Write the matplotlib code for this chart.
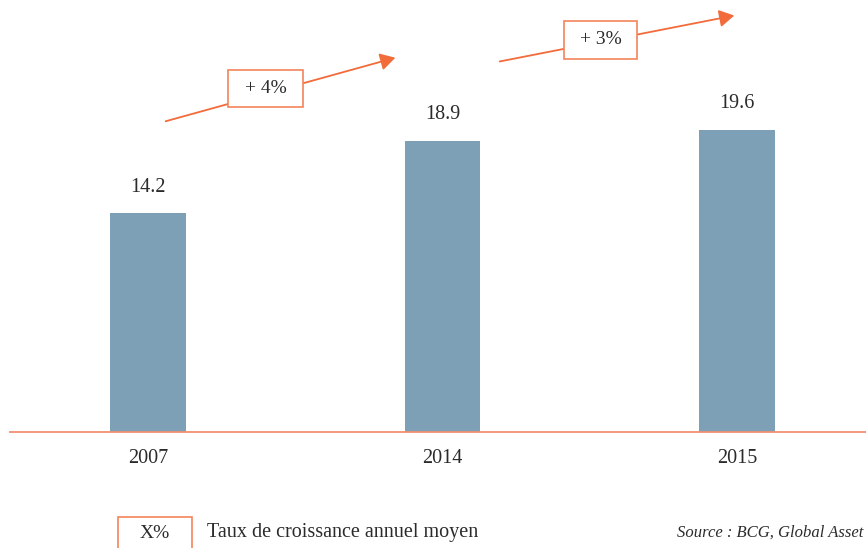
import matplotlib
matplotlib.use("Agg")
import matplotlib.pyplot as plt
from matplotlib.patches import Rectangle, FancyArrowPatch

years = ["2007", "2014", "2015"]
values = [14.2, 18.9, 19.6]
growth_labels = ["+ 4%", "+ 3%"]
legend_key = "X%"
legend_text = "Taux de croissance annuel moyen"
source_text = "Source : BCG, Global Asset"

W, H = 866, 548
fig = plt.figure(figsize=(W / 100, H / 100), dpi=100)
plt.rcParams['font.family'] = ['Liberation Serif', 'DejaVu Serif']

def px(x, y):
    return (x / W, 1 - y / H)

bar_color = "#7DA0B6"
orange = "#F26B3A"
box_edge = "#F4845A"
axis_color = "#F0906F"
text_color = "#2B2B2B"

# axes spanning from x=10 to 866 px, baseline at y=432 px
ax = fig.add_axes([10 / W, (H - 432) / H, (W - 10) / W, 432 / H])
pos = list(range(len(years)))
ax.bar(pos, values, width=0.258, color=bar_color, zorder=2)
ax.set_xlim(-0.4686, 2.438)
ax.set_ylim(0, 432 / 15.4)
for s in ["top", "right", "left"]:
    ax.spines[s].set_visible(False)
ax.spines["bottom"].set_color(axis_color)
ax.spines["bottom"].set_linewidth(1.3)
ax.set_yticks([])
ax.set_xticks(pos)
ax.set_xticklabels(years, fontsize=14.5, color=text_color)
ax.tick_params(axis="x", length=0, pad=12)
for p, v in zip(pos, values):
    ax.annotate(f"{v:.1f}", (p, v), xytext=(0, 12), textcoords="offset points",
                ha="center", va="bottom", fontsize=14.5, color=text_color)

# growth arrows with boxes (figure pixel layout)
arrows = [((163, 122), (398, 57), (228, 70, 75, 37)),
          ((497, 62), (737, 15), (564, 21, 73, 38))]
for (start, end, box), lab in zip(arrows, growth_labels):
    arr = FancyArrowPatch(px(*start), px(*end), transform=fig.transFigure,
                          arrowstyle="-|>,head_length=4.5,head_width=2.6",
                          color=orange, lw=1.3, mutation_scale=2.0)
    fig.add_artist(arr)
    bx, by, bw, bh = box
    rect = Rectangle(px(bx, by + bh), bw / W, bh / H, transform=fig.transFigure,
                     facecolor="white", edgecolor=box_edge, lw=1.2, zorder=5)
    fig.add_artist(rect)
    fig.text(*px(bx + bw / 2, by + bh / 2), lab, ha="center", va="center",
             fontsize=14, color=text_color, zorder=6)

# legend
rect = Rectangle(px(118, 550), 74 / W, 33 / H, transform=fig.transFigure,
                 facecolor="white", edgecolor=box_edge, lw=1.2)
fig.add_artist(rect)
fig.text(*px(155, 533), legend_key, ha="center", va="center", fontsize=14, color=text_color)
fig.text(*px(207, 533), legend_text, ha="left", va="center", fontsize=14.5, color=text_color)
fig.text(*px(863, 533), source_text, ha="right", va="center", fontsize=12,
         style="italic", color=text_color)

fig.savefig("out.png", dpi=100)
